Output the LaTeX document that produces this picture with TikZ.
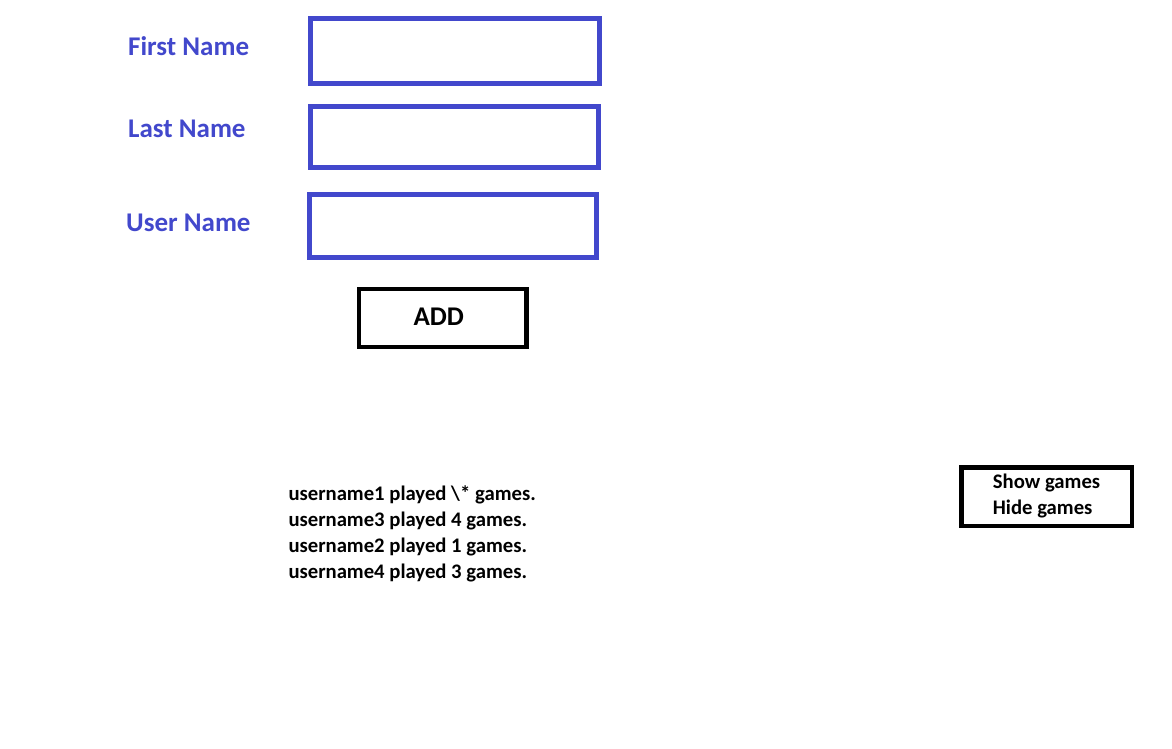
\documentclass[tikz,border=0pt]{standalone}
\usepackage{fontspec}
\setmainfont{Carlito}
\definecolor{fblue}{RGB}{66,72,204}
\tikzset{
  field/.style={draw=fblue, line width=4.5pt, rectangle, inner sep=0pt},
  btn/.style={draw=black, line width=4.5pt, rectangle, inner sep=0pt},
  lbl/.style={anchor=base west, inner sep=0pt, text=fblue, font=\bfseries\fontsize{27}{32}\selectfont},
  btntxt/.style={anchor=base west, inner sep=0pt, font=\bfseries\fontsize{27}{32}\selectfont},
  small/.style={anchor=base west, inner sep=0pt, font=\bfseries\fontsize{20.7}{26}\selectfont}
}
\begin{document}
\begin{tikzpicture}[x=1pt,y=-1pt]
\useasboundingbox[fill=white] (0,0) rectangle (1172,748);
\node[field, minimum width=289pt, minimum height=65pt] (f1) at (455,50.8) {};
\node[field, minimum width=288pt, minimum height=61pt] (f2) at (454.5,136.8) {};
\node[field, minimum width=287.4pt, minimum height=63pt] (f3) at (453,225.8) {};
\node[lbl] (l1) at (128,55) {First Name};
\node[lbl] (l2) at (128,137.7) {Last Name};
\node[lbl] (l3) at (126,231.7) {User Name};
\node[btn, minimum width=167.5pt, minimum height=58pt] (add) at (442.75,318) {};
\node[btntxt] (addt) at (413.3,325) {ADD};
\node[small] (u1) at (288.3,500) {username1 played \textbackslash* games.};
\node[small] (u2) at (288.3,526) {username3 played 4 games.};
\node[small] (u3) at (288.3,552) {username2 played 1 games.};
\node[small] (u4) at (288.3,578) {username4 played 3 games.};
\node[btn, minimum width=170.3pt, minimum height=58.3pt] (sh) at (1046.6,496.6) {};
\node[small] (s1) at (992.7,488.3) {Show games};
\node[small] (s2) at (992.7,514) {Hide games};
\end{tikzpicture}
\end{document}
